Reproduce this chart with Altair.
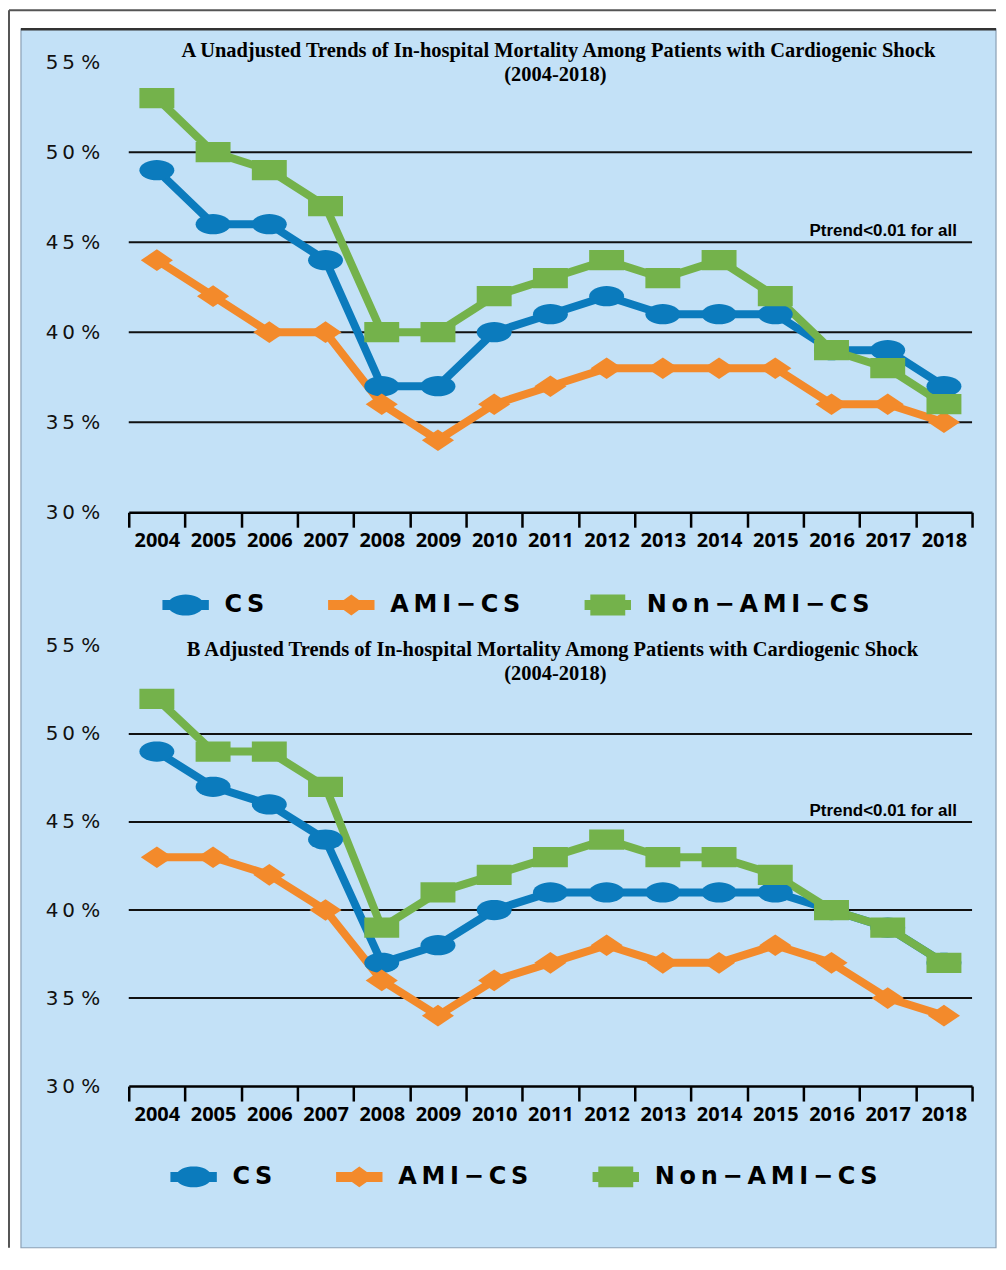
import math
import altair as alt
import pandas as pd

# ---------------- data ----------------
YEARS = [str(y) for y in range(2004, 2019)]
SERIES = ["CS", "AMI-CS", "Non-AMI-CS"]
COLORS = ["#0b7bbd", "#f38a2b", "#74b24b"]

A_CS = [49, 46, 46, 44, 37, 37, 40, 41, 42, 41, 41, 41, 39, 39, 37]
A_AMI = [44, 42, 40, 40, 36, 34, 36, 37, 38, 38, 38, 38, 36, 36, 35]
A_NON = [53, 50, 49, 47, 40, 40, 42, 43, 44, 43, 44, 42, 39, 38, 36]

B_CS = [49, 47, 46, 44, 37, 38, 40, 41, 41, 41, 41, 41, 40, 39, 37]
B_AMI = [43, 43, 42, 40, 36, 34, 36, 37, 38, 37, 37, 38, 37, 35, 34]
B_NON = [52, 49, 49, 47, 39, 41, 42, 43, 44, 43, 43, 42, 40, 39, 37]

Y_TICKS = [30, 35, 40, 45, 50, 55]
GRID = [35, 40, 45, 50]
A_TITLE = "A  Unadjusted Trends of In-hospital Mortality Among Patients with Cardiogenic Shock"
B_TITLE = "B   Adjusted Trends of In-hospital Mortality Among Patients with Cardiogenic Shock"
SUBTITLE = "(2004-2018)"
PTREND = "Ptrend<0.01 for all"

BG = "#c3e1f7"
W = 845


# ---------------- shapes ----------------
def ellipse_path(rx, ry, n=36):
    pts = []
    for i in range(n):
        t = 2 * math.pi * i / n
        pts.append(f"{rx * math.cos(t):.3f},{ry * math.sin(t):.3f}")
    return "M" + "L".join(pts) + "Z"


def rect_path(hx, hy):
    return f"M{-hx},{-hy}L{hx},{-hy}L{hx},{hy}L{-hx},{hy}Z"


def diamond_path(hx, hy):
    return f"M{-hx},0L0,{-hy}L{hx},0L0,{hy}Z"


MARK_SHAPES = [ellipse_path(1, 0.58), diamond_path(0.92, 0.62), rect_path(1, 0.58)]
BAR = rect_path(0.93, 0.2)
LEG_SHAPES = [BAR + " " + ellipse_path(0.72, 0.42),
              BAR + " " + diamond_path(0.58, 0.42),
              BAR + " " + rect_path(0.7, 0.42)]


def long_df(cs, ami, non):
    rows = []
    for s, vals in zip(SERIES, [cs, ami, non]):
        for y, v in zip(YEARS, vals):
            rows.append({"year": y, "v": v, "series": s})
    return pd.DataFrame(rows)


def make_panel(cs, ami, non, title, title_dx, title_dy, height, legend_x, legend_y, decor=False):
    df = long_df(cs, ami, non)
    X = alt.X("year:O", sort=YEARS,
              scale=alt.Scale(type="band", domain=YEARS, paddingInner=0, paddingOuter=0),
              axis=alt.Axis(tickBand="extent", labelAngle=0, domainColor="black", domainWidth=2.5,
                            tickColor="black", tickWidth=2.5, tickSize=15,
                            labelFont="Open Sans", labelFontWeight="bold", labelFontSize=20,
                            labelColor="black", labelPadding=3, grid=False, zindex=1),
              title=None)
    Y = alt.Y("v:Q", scale=alt.Scale(domain=[30, 55], nice=False, zero=False),
              axis=alt.Axis(values=Y_TICKS, domain=False, ticks=False, grid=False,
                            labelExpr="substring(datum.label,0,1) + '\u2009' + substring(datum.label,1,2) + ' %'",
                            labelFont="DejaVu Sans", labelFontSize=20, labelColor="#111",
                            labelPadding=29, zindex=1),
              title=None)
    leg = alt.Legend(orient="none", legendX=legend_x, legendY=legend_y, direction="horizontal",
                     title=None, symbolSize=2500, symbolStrokeWidth=0, symbolOpacity=1,
                     labelFont="DejaVu Sans", labelFontSize=24, labelFontWeight="bold",
                     labelColor="black", labelOffset=14, columnPadding=62, labelLimit=400,
                     padding=0,
                     labelExpr="join(split(join(split(datum.label, '-'), '\u2212'), ''), '\u2009')")
    col = alt.Color("series:N", scale=alt.Scale(domain=SERIES, range=COLORS), legend=leg)

    layers = []
    one = pd.DataFrame({"a": [0]})
    if decor:
        layers.append(alt.Chart(one).mark_rect(fill=BG, stroke="#8aa0b5", strokeWidth=1.2).encode(
            x=alt.value(-108), x2=alt.value(869), y=alt.value(-33), y2=alt.value(1188)))
        layers.append(alt.Chart(one).mark_rule(color="#333", strokeWidth=2.5).encode(
            x=alt.value(-108), x2=alt.value(869), y=alt.value(-33), y2=alt.value(-33)))
        layers.append(alt.Chart(one).mark_rule(color="#555", strokeWidth=2).encode(
            x=alt.value(-120), x2=alt.value(869), y=alt.value(-52), y2=alt.value(-52)))
        layers.append(alt.Chart(one).mark_rule(color="#555", strokeWidth=2).encode(
            x=alt.value(-120), x2=alt.value(-120), y=alt.value(-52), y2=alt.value(1188)))

    grid_df = pd.DataFrame({"v": GRID})
    layers.append(alt.Chart(grid_df).mark_rule(color="#111", strokeWidth=2).encode(y=Y))

    # legend-only layer (no rows drawn)
    layers.append(alt.Chart(df).transform_filter("false").mark_point(filled=True, opacity=1).encode(
        x=X, y=Y, color=col,
        shape=alt.Shape("series:N", scale=alt.Scale(domain=SERIES, range=LEG_SHAPES), legend=leg)))

    layers.append(alt.Chart(df).mark_line(strokeWidth=8, strokeJoin="round").encode(
        x=X, y=Y, color=col))
    for s, shp in zip(SERIES, MARK_SHAPES):
        layers.append(alt.Chart(df).transform_filter(alt.datum.series == s).mark_point(
            shape=shp, filled=True, size=1225, opacity=1, strokeWidth=0).encode(x=X, y=Y, color=col))

    ptd = pd.DataFrame({"year": ["2018"], "v": [45], "t": [PTREND]})
    layers.append(alt.Chart(ptd).mark_text(align="right", baseline="alphabetic", dx=13, dy=-6,
                                           font="Liberation Sans", fontWeight="bold", fontSize=17,
                                           color="black").encode(x=X, y=Y, text="t:N"))

    for txt, ddx, ddy in [(title, title_dx, title_dy), (SUBTITLE, 5, title_dy + 24)]:
        ttd = pd.DataFrame({"year": ["2011"], "v": [55], "t": [txt]})
        layers.append(alt.Chart(ttd).mark_text(align="center", baseline="alphabetic",
                                               dx=ddx, dy=ddy,
                                               font="Liberation Serif", fontWeight="bold",
                                               fontSize=20.5, color="black").encode(
            x=X, y=Y, text="t:N"))

    return alt.layer(*layers).properties(width=W, height=height)


panel_a = make_panel(A_CS, A_AMI, A_NON, A_TITLE, 8, -5, 451, 32, 519, decor=True)
panel_b = make_panel(B_CS, B_AMI, B_NON, B_TITLE, 2, 10, 441, 40, 507)

chart = alt.vconcat(panel_a, panel_b, spacing=134, bounds="flush").resolve_scale(
    color="independent", shape="independent", x="independent", y="independent"
).resolve_legend(color="independent", shape="independent").configure_view(
    stroke=None
).properties(padding={"left": 0, "top": 0, "right": 0, "bottom": 0}, background="white")

chart.save("out.html", embed_options={"renderer": "svg", "actions": False})
